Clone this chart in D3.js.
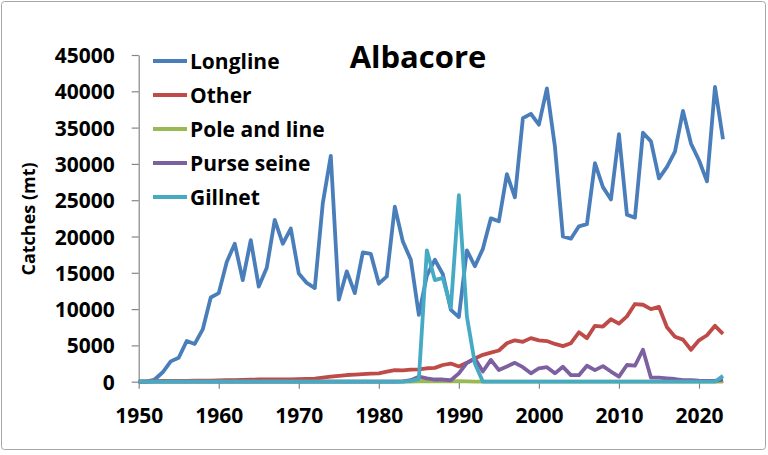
<!DOCTYPE html>
<html>
<head>
<meta charset="utf-8">
<script src="https://cdn.jsdelivr.net/npm/d3@7"></script>
<style>
  html, body { margin: 0; padding: 0; background: #fff; }
  svg { display: block; font-family: "Open Sans", sans-serif; }
</style>
</head>
<body>
<svg id="chart" width="768" height="455"></svg>
<script>
// catches (mt) per year, 1950-2023
const years = d3.range(1950, 2024);

const longline = [
  0, 0, 300, 1300, 2800, 3300, 5600, 5200, 7200, 11600,
  12200, 16500, 19000, 14000, 19500, 13100, 15700, 22300, 19000, 21100,
  14900, 13600, 12900, 24600, 31100, 11300, 15200, 12200, 17800, 17600,
  13500, 14500, 24100, 19300, 16800, 9200, 14600, 16800, 14800, 9900,
  8900, 18100, 15900, 18300, 22500, 22100, 28600, 25400, 36300, 36900,
  35400, 40400, 32400, 20000, 19700, 21400, 21700, 30100, 26800, 25100,
  34100, 23000, 22600, 34300, 33100, 28000, 29600, 31700, 37300, 32800,
  30500, 27600, 40600, 33400
];
const other = [
  0, 50, 80, 100, 100, 120, 120, 130, 150, 150,
  180, 200, 220, 250, 280, 300, 300, 320, 300, 320,
  350, 380, 420, 550, 700, 800, 920, 980, 1050, 1100,
  1150, 1380, 1600, 1550, 1650, 1700, 1850, 1900, 2300, 2500,
  2100, 2600, 3200, 3700, 4000, 4300, 5300, 5700, 5500, 6000,
  5700, 5600, 5200, 4900, 5300, 6800, 6000, 7700, 7600, 8600,
  8000, 9000, 10700, 10600, 10000, 10300, 7500, 6200, 5800, 4400,
  5700, 6400, 7700, 6600
];
const poleAndLine = [
  0, 0, 0, 0, 0, 0, 0, 0, 0, 0,
  0, 0, 0, 0, 0, 0, 0, 0, 0, 0,
  0, 0, 0, 0, 0, 0, 0, 0, 0, 0,
  0, 0, 0, 0, 20, 60, 60, 60, 60, 60,
  60, 40, 20, 0, 0, 0, 0, 0, 0, 0,
  0, 0, 0, 0, 0, 0, 0, 0, 0, 0,
  0, 0, 0, 0, 0, 0, 0, 0, 0, 0,
  0, 0, 0, 0
];
const purseSeine = [
  0, 0, 0, 0, 0, 0, 0, 0, 0, 0,
  0, 0, 0, 0, 0, 0, 0, 0, 0, 0,
  0, 0, 0, 0, 0, 0, 0, 0, 0, 0,
  0, 0, 0, 50, 200, 700, 450, 300, 300, 200,
  1150, 2600, 3200, 1400, 3000, 1600, 2100, 2600, 2000, 1150,
  1850, 2000, 1150, 2050, 900, 900, 2200, 1600, 2150, 1400,
  700, 2300, 2200, 4400, 550, 550, 450, 370, 230, 230,
  150, 100, 100, 300
];
const gillnet = [
  0, 0, 0, 0, 0, 0, 0, 0, 0, 0,
  0, 0, 0, 0, 0, 0, 0, 0, 0, 0,
  0, 0, 0, 0, 0, 0, 0, 0, 0, 0,
  0, 0, 0, 0, 100, 400, 18100, 14000, 14300, 10200,
  25700, 9000, 2500, 0, 0, 0, 0, 0, 0, 0,
  0, 0, 0, 0, 0, 0, 0, 0, 0, 0,
  0, 0, 0, 0, 0, 0, 0, 0, 0, 0,
  0, 0, 0, 800
];

const seriesNames = ["Longline", "Other", "Pole and line", "Purse seine", "Gillnet"];
const seriesValues = [longline, other, poleAndLine, purseSeine, gillnet];
const seriesColors = ["#4a7ebb", "#be4b48", "#98b954", "#7d60a0", "#46aac5"];
const xTicks = d3.range(1950, 2021, 10);
const yTicks = d3.range(0, 45001, 5000);

const svg = d3.select('#chart');

// outer frame
svg.append('rect')
  .attr('x', 1.5).attr('y', 1.5)
  .attr('width', 764).attr('height', 448)
  .attr('rx', 3)
  .attr('fill', '#fff')
  .attr('stroke', '#a6a6a6');

const x = d3.scaleLinear().domain([1950, 2023]).range([138.7, 723]);
const y = d3.scaleLinear().domain([0, 45000]).range([381.7, 55]);

// axes
const xAxis = svg.append('g')
  .attr('transform', `translate(0,${y(0)})`)
  .call(d3.axisBottom(x).tickValues(xTicks).tickFormat(d3.format('d'))
    .tickSize(7).tickSizeOuter(0).tickPadding(19));

const yAxis = svg.append('g')
  .attr('transform', `translate(${x(1950)},0)`)
  .call(d3.axisLeft(y).tickValues(yTicks).tickFormat(d3.format('d'))
    .tickSize(7).tickSizeOuter(0).tickPadding(17));

[xAxis, yAxis].forEach(g => {
  g.selectAll('path, line').attr('stroke', '#868686').attr('stroke-width', 1.2);
  g.selectAll('text')
    .attr('fill', '#000')
    .style('font-family', '"Open Sans", sans-serif')
    .style('font-weight', 'bold')
    .style('font-size', '21px');
});
yAxis.selectAll('text').attr('dy', '0.36em');

// y title
svg.append('text')
  .attr('transform', 'translate(35,219) rotate(-90)')
  .attr('text-anchor', 'middle')
  .style('font-weight', 'bold')
  .style('font-size', '18px')
  .text('Catches (mt)');

// title
svg.append('text')
  .attr('x', 418).attr('y', 68)
  .attr('text-anchor', 'middle')
  .style('font-weight', 'bold')
  .style('font-size', '31px')
  .text('Albacore');

// lines
const line = d3.line()
  .x((d, i) => x(years[i]))
  .y(d => y(d));

svg.append('g').selectAll('path')
  .data(seriesValues)
  .enter()
  .append('path')
  .attr('d', d => line(d))
  .attr('fill', 'none')
  .attr('stroke', (d, i) => seriesColors[i])
  .attr('stroke-width', 3.8)
  .attr('stroke-linejoin', 'round');

// legend
const legend = svg.append('g').selectAll('g')
  .data(seriesNames)
  .enter()
  .append('g')
  .attr('transform', (d, i) => `translate(153,${61 + i * 34})`);

legend.append('line')
  .attr('x1', 0).attr('x2', 34)
  .attr('stroke', (d, i) => seriesColors[i])
  .attr('stroke-width', 3.8);

legend.append('text')
  .attr('x', 37).attr('dy', '0.36em')
  .style('font-weight', 'bold')
  .style('font-size', '21px')
  .text(d => d);
</script>
</body>
</html>
